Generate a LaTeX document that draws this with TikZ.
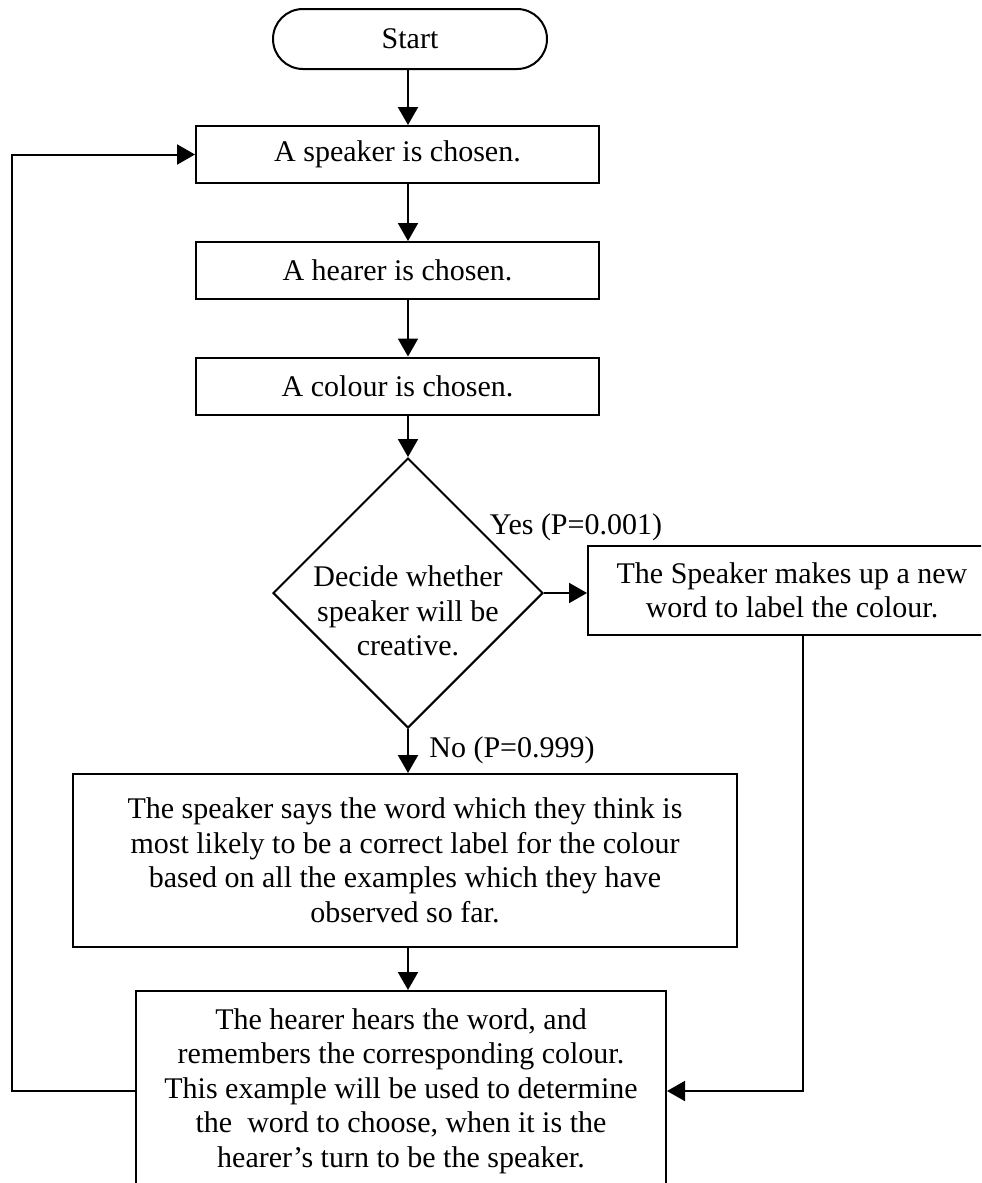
\documentclass[tikz,border=0pt]{standalone}
\usepackage{fontspec}
\setmainfont{Liberation Serif}
\usetikzlibrary{shapes.geometric,arrows.meta}

\tikzset{
  txt/.style={font=\fontsize{15pt}{17.25pt}\selectfont, align=center, inner sep=0pt},
  procbox/.style={txt, draw, line width=1pt, rectangle},
  termbox/.style={txt, draw, line width=1pt, rectangle, rounded corners=15pt,
                  minimum width=137pt, minimum height=30pt},
  decbox/.style={draw, line width=1pt, diamond, inner sep=0pt,
                 minimum width=135pt, minimum height=135pt},
  arr/.style={line width=1pt, -{Triangle[length=9pt,width=10pt]}},
  link/.style={line width=1pt}
}

\begin{document}
\begin{tikzpicture}[x=0.5pt, y=-0.5pt]
  \useasboundingbox (0,0) rectangle (981,1183);
  \clip (0,0) rectangle (981,1183);

  % main column and side lines
  \coordinate (col) at (408,0);
  \coordinate (rline) at (803,0);
  \coordinate (lline) at (12,0);

  \node[termbox] (start) at (410,39) {Start};
  \node[procbox, minimum width=201.5pt, minimum height=28.5pt] (spk) at (397.5,154.5) {A speaker is chosen.};
  \node[procbox, minimum width=201.5pt, minimum height=28.5pt] (hear) at (397.5,270.5) {A hearer is chosen.};
  \node[procbox, minimum width=201.5pt, minimum height=28.5pt] (col3) at (397.5,386) {A colour is chosen.};

  \node[decbox] (dec) at (408,593) {};
  \node[txt] (dectext) at (408,611) {Decide whether\\speaker will be\\creative.};

  \node[procbox, minimum width=204pt, minimum height=44.5pt] (newword) at (792,590.5)
    {The Speaker makes up a new\\word to label the colour.};

  \node[procbox, minimum width=332pt, minimum height=86.5pt] (says) at (405,860.5)
    {The speaker says the word which they think is\\most likely to be a correct label for the colour\\based on all the examples which they have\\observed so far.};

  \node[procbox, minimum width=265pt, minimum height=100pt] (hears) at (401,1091)
    {The hearer hears the word, and\\remembers the corresponding colour.\\This example will be used to determine\\the\ \ word to choose, when it is the\\hearer’s turn to be the speaker.};

  \node[txt] (yes) at (576,527) {Yes (P=0.001)};
  \node[txt] (no) at (512,750) {No (P=0.999)};

  % connectors
  \draw[arr] (start.south -| col) -- (spk.north -| col);
  \draw[arr] (spk.south -| col) -- (hear.north -| col);
  \draw[arr] (hear.south -| col) -- (col3.north -| col);
  \draw[arr] (col3.south -| col) -- (dec.north);
  \draw[arr] (dec.east) -- (newword.west |- dec.east);
  \draw[arr] (dec.south) -- (says.north -| dec.south);
  \draw[arr] (says.south -| col) -- (hears.north -| col);
  \draw[arr] (newword.south -| rline) |- (hears.east);
  \draw[arr] (hears.west) -- (hears.west -| lline) |- (spk.west);
\end{tikzpicture}
\end{document}
